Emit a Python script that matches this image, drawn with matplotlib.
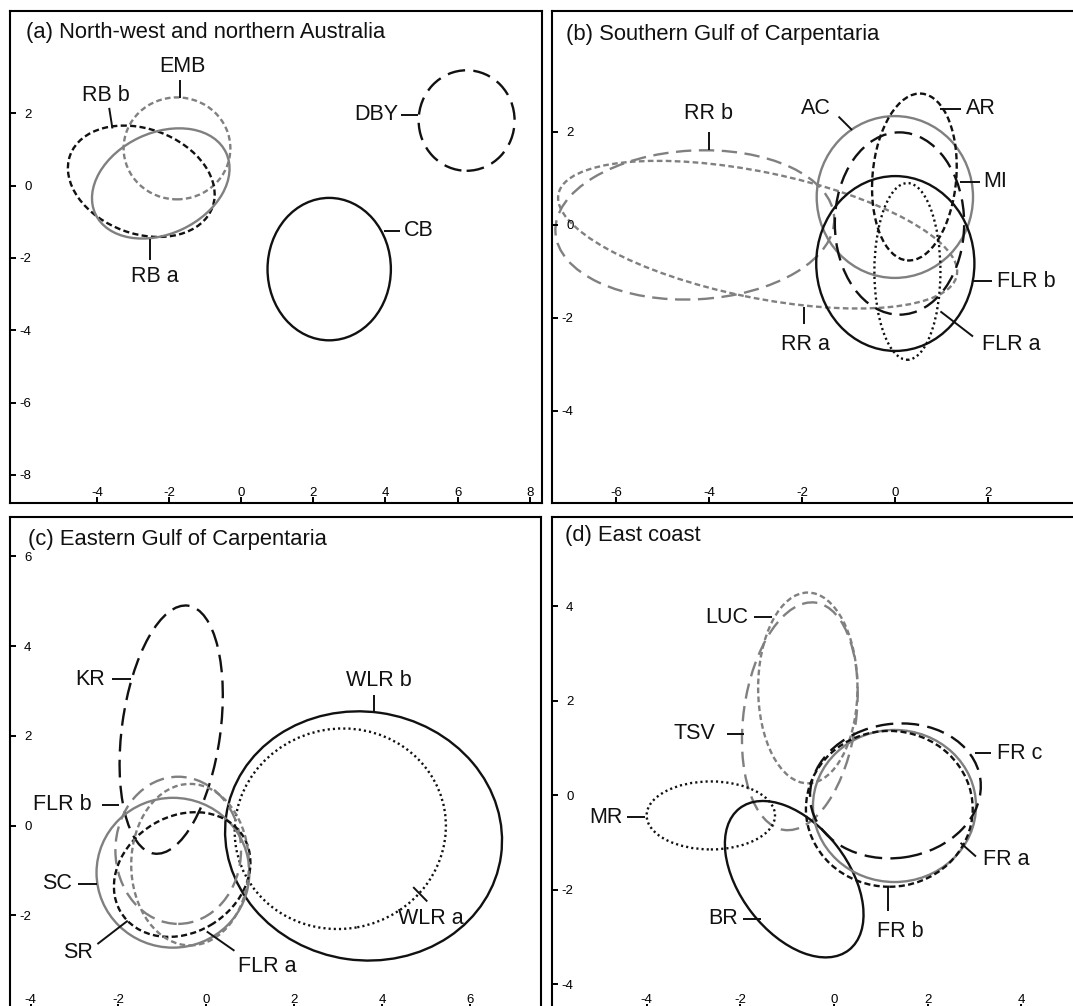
import matplotlib
matplotlib.use('Agg')
import matplotlib.pyplot as plt
from matplotlib.patches import Ellipse

plt.rcParams['font.family'] = ['Liberation Sans', 'DejaVu Sans']

# ---------------- data ----------------
# panel (a) North-west and northern Australia
names_a = ['CB', 'DBY', 'EMB', 'RB b', 'RB a']
cx_a = [2.44, 6.25, -1.78, -2.77, -2.23]
cy_a = [-2.31, 1.80, 1.03, 0.12, 0.06]
sx_a = [1.71, 1.33, 1.48, 2.10, 2.00]
sy_a = [1.97, 1.39, 1.41, 1.45, 1.40]
ang_a = [0, 0, 0, -20, 25]
sty_a = ['solid_k', 'ldash_k', 'sdash_g', 'sdash_k', 'solid_g']

# panel (b) Southern Gulf of Carpentaria
names_b = ['RR b', 'RR a', 'AC', 'AR', 'MI', 'FLR b', 'FLR a']
cx_b = [-4.31, -2.96, -0.01, 0.41, 0.09, 0.0, 0.26]
cy_b = [0.0, -0.21, 0.60, 1.03, 0.03, -0.83, -1.0]
sx_b = [3.0, 4.37, 1.68, 0.90, 1.39, 1.70, 0.71]
sy_b = [1.6, 1.35, 1.74, 1.80, 1.96, 1.88, 1.90]
ang_b = [3, -11.6, 0, -5, 0, 0, 0]
sty_b = ['ldash_g', 'sdash_g', 'solid_g', 'sdash_k', 'ldash_k', 'solid_k', 'dot_k']

# panel (c) Eastern Gulf of Carpentaria
names_c = ['KR', 'WLR b', 'WLR a', 'FLR b', 'SC', 'SR', 'FLR a']
cx_c = [-0.80, 3.58, 3.05, -0.64, -0.76, -0.55, -0.37]
cy_c = [2.14, -0.23, -0.07, -0.55, -1.05, -1.09, -0.87]
sx_c = [1.12, 3.16, 2.41, 1.43, 1.74, 1.63, 1.34]
sy_c = [2.79, 2.77, 2.23, 1.64, 1.67, 1.30, 1.80]
ang_c = [-8, -8, 10, 0, 0, 30, 0]
sty_c = ['ldash_k', 'solid_k', 'dot_k', 'ldash_g', 'solid_g', 'sdash_k', 'sdash_g']

# panel (d) East coast
names_d = ['LUC', 'TSV', 'MR', 'BR', 'FR a', 'FR b', 'FR c']
cx_d = [-0.56, -0.73, -2.63, -0.85, 1.29, 1.18, 1.31]
cy_d = [2.27, 1.67, -0.43, -1.78, -0.23, -0.29, 0.09]
sx_d = [1.06, 1.20, 1.37, 1.90, 1.74, 1.78, 1.83]
sy_d = [2.02, 2.43, 0.72, 1.15, 1.61, 1.65, 1.42]
ang_d = [0, -8, 0, -52, 0, 0, 8]
sty_d = ['sdash_g', 'ldash_g', 'dot_k', 'solid_k', 'solid_g', 'sdash_k', 'ldash_k']

# label annotations: (text, text x, text y, ha, leader x0, y0, x1, y1)
lab_a = [('CB', 4.50, -1.25, 'left', 3.96, -1.25, 4.39, -1.25),
         ('DBY', 4.35, 1.96, 'right', 4.44, 1.96, 4.91, 1.96),
         ('EMB', -1.64, 3.30, 'center', -1.69, 2.91, -1.69, 2.43),
         ('RB b', -3.75, 2.48, 'center', -3.66, 2.15, -3.57, 1.58),
         ('RB a', -2.39, -2.52, 'center', -2.54, -1.48, -2.54, -2.06)]
lab_b = [('RR b', -4.01, 2.40, 'center', -4.0, 1.99, -4.0, 1.62),
         ('RR a', -1.93, -2.57, 'center', -1.97, -1.77, -1.97, -2.14),
         ('AC', -1.71, 2.50, 'center', -1.22, 2.33, -0.93, 2.04),
         ('AR', 1.52, 2.50, 'left', 0.97, 2.50, 1.41, 2.50),
         ('MI', 1.90, 0.93, 'left', 1.38, 0.93, 1.82, 0.93),
         ('FLR b', 2.19, -1.21, 'left', 1.67, -1.21, 2.08, -1.21),
         ('FLR a', 1.86, -2.57, 'left', 0.97, -1.86, 1.67, -2.40)]
lab_c = [('KR', -2.30, 3.26, 'right', -2.15, 3.26, -1.71, 3.26),
         ('WLR b', 3.93, 3.23, 'center', 3.81, 2.92, 3.81, 2.51),
         ('WLR a', 5.11, -2.07, 'center', 4.71, -1.37, 5.03, -1.69),
         ('FLR b', -2.62, 0.46, 'right', -2.38, 0.46, -1.99, 0.46),
         ('SC', -3.05, -1.30, 'right', -2.93, -1.30, -2.48, -1.30),
         ('SR', -2.59, -2.83, 'right', -2.48, -2.64, -1.79, -2.12),
         ('FLR a', 1.38, -3.14, 'center', 0.01, -2.36, 0.64, -2.79)]
lab_d = [('LUC', -1.84, 3.77, 'right', -1.70, 3.77, -1.33, 3.77),
         ('TSV', -2.54, 1.30, 'right', -2.28, 1.30, -1.92, 1.30),
         ('MR', -4.52, -0.47, 'right', -4.41, -0.47, -4.04, -0.47),
         ('BR', -2.05, -2.62, 'right', -1.95, -2.62, -1.55, -2.62),
         ('FR c', 3.47, 0.89, 'left', 3.00, 0.89, 3.36, 0.89),
         ('FR a', 3.18, -1.37, 'left', 2.70, -1.01, 3.03, -1.30),
         ('FR b', 1.42, -2.88, 'center', 1.16, -1.95, 1.16, -2.45)]

titles = ['(a) North-west and northern Australia', '(b) Southern Gulf of Carpentaria',
          '(c) Eastern Gulf of Carpentaria', '(d) East coast']
xticks_list = [[-4, -2, 0, 2, 4, 6, 8], [-6, -4, -2, 0, 2], [-4, -2, 0, 2, 4, 6], [-4, -2, 0, 2, 4]]
yticks_list = [[-8, -6, -4, -2, 0, 2], [-4, -2, 0, 2], [-2, 0, 2, 4, 6], [-4, -2, 0, 2, 4]]

# ---------------- styling ----------------
K = '#111111'
G = '#808080'
STYLES = {
    'solid_k': dict(color=K, ls='-'),
    'solid_g': dict(color=G, ls='-'),
    'ldash_k': dict(color=K, ls=(0, (7.5, 3.5))),
    'ldash_g': dict(color=G, ls=(0, (6.5, 3.2))),
    'sdash_k': dict(color=K, ls=(0, (2.6, 1.4))),
    'sdash_g': dict(color=G, ls=(0, (2.4, 1.4))),
    'dot_k': dict(color=K, ls=(0, (0.9, 1.3))),
}

W, H = 1073, 1006
fig = plt.figure(figsize=(W / 100, H / 100), dpi=100)


def px_axes(l, t, r, b):
    return fig.add_axes([l / W, 1 - b / H, (r - l) / W, (b - t) / H])


# pixel frames and limits
frames = [(10, 11, 542, 503), (552, 11, 1080, 503), (10, 517, 541, 1010), (552, 517, 1080, 1010)]
xlims = [(-6.41, 8.34), (-7.38, 3.97), (-4.47, 7.62), (-6.02, 5.25)]
ylims = [(-8.78, 4.83), (-5.98, 4.60), (-4.11, 6.88), (-4.55, 5.89)]
title_pos = [(0.030, 0.957), (0.0265, 0.953), (0.033, 0.955), (0.0246, 0.963)]

panels = [
    (names_a, cx_a, cy_a, sx_a, sy_a, ang_a, sty_a, lab_a),
    (names_b, cx_b, cy_b, sx_b, sy_b, ang_b, sty_b, lab_b),
    (names_c, cx_c, cy_c, sx_c, sy_c, ang_c, sty_c, lab_c),
    (names_d, cx_d, cy_d, sx_d, sy_d, ang_d, sty_d, lab_d),
]

for i, (nm, cx, cy, sx, sy, ang, sty, labs) in enumerate(panels):
    ax = px_axes(*frames[i])
    ax.set_xlim(*xlims[i])
    ax.set_ylim(*ylims[i])
    for s in ax.spines.values():
        s.set_linewidth(1.5)
        s.set_color('black')
    for n, x, y, a, b, an, st in zip(nm, cx, cy, sx, sy, ang, sty):
        e = Ellipse((x, y), 2 * a, 2 * b, angle=an, fill=False, lw=1.7, **STYLES[st])
        ax.add_patch(e)
    for (t, tx, ty, ha, x0, y0, x1, y1) in labs:
        ax.plot([x0, x1], [y0, y1], color=K, lw=1.4, solid_capstyle='butt')
        ax.text(tx, ty, t, ha=ha, va='center', fontsize=15.5, color=K)
    ax.text(title_pos[i][0], title_pos[i][1], titles[i], transform=ax.transAxes,
            ha='left', va='center', fontsize=15.8, color=K)
    ax.set_xticks(xticks_list[i])
    ax.set_yticks(yticks_list[i])
    ax.set_xticklabels([str(v) for v in xticks_list[i]])
    ax.set_yticklabels([str(v) for v in yticks_list[i]])
    ax.tick_params(axis='both', direction='in', length=4.3, width=1.4, labelsize=9.5,
                   colors='black')
    ax.tick_params(axis='y', pad=-15.5)
    ax.tick_params(axis='x', pad=-5)
    plt.setp(ax.get_xticklabels(), va='baseline')

fig.savefig('out.png', dpi=100)
